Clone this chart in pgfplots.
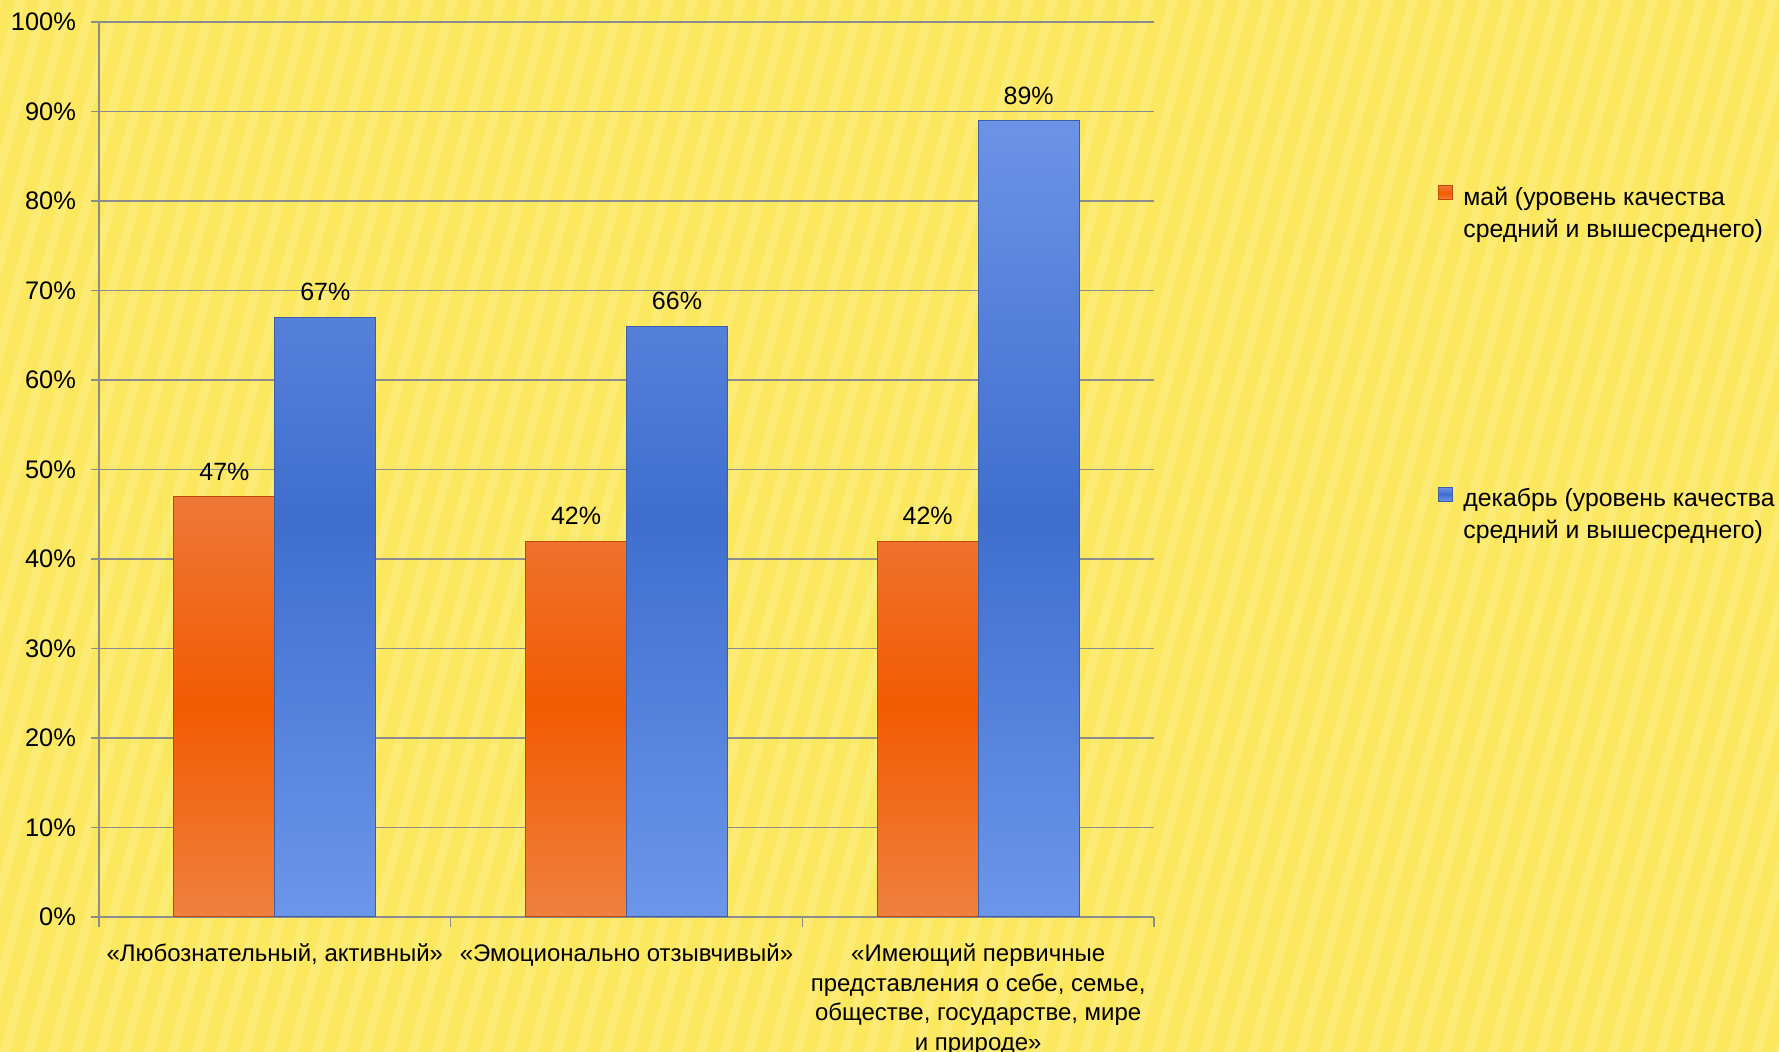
\documentclass[border=0pt]{standalone}
\usepackage{fontspec}
\setmainfont{Liberation Sans}
\usepackage{pgfplots}
\pgfplotsset{compat=1.18}

\definecolor{bgyel}{HTML}{FBE85E}
\definecolor{stripe}{HTML}{FFF6A2}
\definecolor{gridgray}{HTML}{8C8C8C}
\definecolor{orTop}{HTML}{EE7838}
\definecolor{orMid}{HTML}{F25B02}
\definecolor{orBot}{HTML}{F0803F}
\definecolor{orEdge}{HTML}{C04800}
\definecolor{blTop}{HTML}{6C93E6}
\definecolor{blMid}{HTML}{3F6ECE}
\definecolor{blBot}{HTML}{6C96EA}
\definecolor{blEdge}{HTML}{3A5FA8}

\begin{document}
\begin{tikzpicture}
\useasboundingbox (0,0) rectangle (889.5pt,526pt);
\fill[bgyel] (0,0) rectangle (889.5pt,526pt);
% light diagonal stripes of the slide background
\begin{scope}
  \clip (0,0) rectangle (889.5pt,526pt);
  \foreach \i in {-15,...,78} {
    \fill[stripe, opacity=0.35] (\i*12pt,0) -- ++(5pt,0) -- ++(140pt,526pt) -- ++(-5pt,0) -- cycle;
  }
\end{scope}

\begin{axis}[
  at={(49.5pt,67.5pt)}, anchor=south west,
  scale only axis, width=527.5pt, height=447.5pt,
  ymin=0, ymax=100, xmin=-0.5, xmax=2.5,
  ybar=0pt, bar width=0.287,
  axis x line*=bottom, axis y line*=left,
  axis line style={gridgray, line width=0.8pt, -},
  ytick={0,10,...,100},
  yticklabel={\pgfmathprintnumber{\tick}\%},
  /pgf/number format/assume math mode=true,
  ymajorgrids, grid style={gridgray, line width=0.8pt},
  tick align=outside,
  major tick length=4pt, minor tick length=5pt,
  tick style={gridgray, line width=0.8pt},
  every major x tick/.style={draw=none},
  xtick={0,1,2},
  minor xtick={-0.5,0.5,1.5,2.5},
  xticklabels={{«Любознательный, активный»},{«Эмоционально отзывчивый»},{«Имеющий первичные\\представления о себе, семье,\\обществе, государстве, мире\\и природе»}},
  xticklabel style={font=\fontsize{12}{14.75}\selectfont, align=center, yshift=-6pt},
  yticklabel style={font=\fontsize{12.7}{15}\selectfont, xshift=-4pt},
  nodes near coords={\pgfmathprintnumber{\pgfplotspointmeta}\%},
  nodes near coords style={font=\fontsize{12.5}{15}\selectfont, black, yshift=4.5pt},
  legend style={draw=none, fill=none, at={(1,1)}, anchor=north west,
    xshift=139pt, yshift=-79.5pt,
    font=\fontsize{12.4}{16}\selectfont,
    nodes={align=left, inner sep=0pt}, row sep=123pt,
    /tikz/every odd column/.append style={column sep=5pt}},
  legend cell align=left,
  legend image code/.code={\draw[#1] (0pt,7pt) rectangle (7pt,14pt);},
]
\addplot[draw=orEdge, line width=0.5pt, top color=orTop, bottom color=orBot, middle color=orMid]
  coordinates {(0,47) (1,42) (2,42)};
\addlegendentry{май (уровень качества\\ средний и вышесреднего)}
\addplot[draw=blEdge, line width=0.5pt, top color=blTop, bottom color=blBot, middle color=blMid]
  coordinates {(0,67) (1,66) (2,89)};
\addlegendentry{декабрь (уровень качества\\ средний и вышесреднего)}
\end{axis}
\end{tikzpicture}
\end{document}
